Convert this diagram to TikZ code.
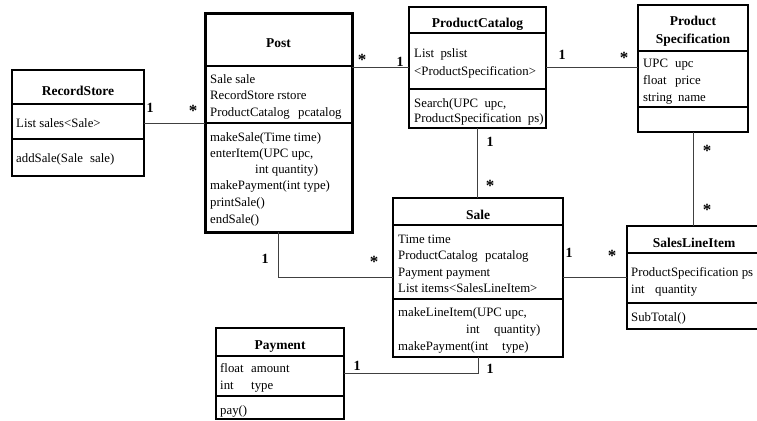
\documentclass[tikz,border=0pt]{standalone}
\usepackage{fontspec}
\setmainfont{Liberation Serif}
\begin{document}
\begin{tikzpicture}[x=1pt,y=-1pt,
  cls/.style={draw=black, line width=1.8pt, anchor=north west, inner sep=0pt, outer sep=0pt},
  sep/.style={draw=black, line width=1.7pt},
  con/.style={draw=black!75, line width=1pt},
  txt/.style={anchor=base west, inner sep=0pt, font=\fontsize{12.8}{15}\selectfont},
  ttl/.style={anchor=base, inner sep=0pt, font=\bfseries\fontsize{13.5}{16}\selectfont},
  mult/.style={inner sep=0pt, font=\bfseries\fontsize{14}{16}\selectfont},
  star/.style={inner sep=0pt, font=\bfseries\fontsize{17}{18}\selectfont}]
\useasboundingbox (0,0) rectangle (757,420);

% ---------- RecordStore
\node[cls, minimum width=132pt, minimum height=106pt] (rs) at (12,70) {};
\draw[sep] (12,104) -- (144,104);
\draw[sep] (12,139) -- (144,139);
\node[ttl] (rst) at (78,95) {RecordStore};
\node[txt] (rsa1) at (16,127) {List sales<Sale>};
\node[txt] (rsm1) at (16,162) {\makebox[74pt][l]{addSale(Sale}sale)};

% ---------- Post
\node[cls, line width=3pt, minimum width=147pt, minimum height=218pt] (post) at (205,14) {};
\draw[sep] (205,66) -- (352,66);
\draw[sep] (205,123) -- (352,123);
\node[ttl] (postt) at (278.5,48) {Post};
\node[txt] (posta1) at (210,83) {Sale sale};
\node[txt] (posta2) at (210,99.5) {RecordStore rstore};
\node[txt] (posta3) at (210,116) {\makebox[88pt][l]{ProductCatalog}pcatalog};
\node[txt] (postm1) at (210,141) {makeSale(Time time)};
\node[txt] (postm2) at (210,157.5) {enterItem(UPC upc,};
\node[txt] (postm3) at (210,173.5) {\hspace{45pt}int quantity)};
\node[txt] (postm4) at (210,189.5) {makePayment(int type)};
\node[txt] (postm5) at (210,206) {printSale()};
\node[txt] (postm6) at (210,223) {endSale()};

% ---------- ProductCatalog
\node[cls, minimum width=137pt, minimum height=121pt] (pc) at (409,7) {};
\draw[sep] (409,33) -- (546,33);
\draw[sep] (409,89) -- (546,89);
\node[ttl] (pct) at (477.5,28) {ProductCatalog};
\node[txt] (pca1) at (414,57) {List\ \ pslist};
\node[txt] (pca2) at (414,75) {<ProductSpecification>};
\node[txt] (pcm1) at (414,107) {Search(UPC\ \ upc,};
\node[txt] (pcm2) at (414,122) {ProductSpecification\ \ ps)};

% ---------- ProductSpecification
\node[cls, minimum width=110pt, minimum height=127pt] (ps) at (638,5) {};
\draw[sep] (638,51) -- (748,51);
\draw[sep] (638,107) -- (748,107);
\node[ttl] (pst1) at (693,26) {Product};
\node[ttl] (pst2) at (693,44) {Specification};
\node[txt] (psa1) at (643,67) {\makebox[32pt][l]{UPC}upc};
\node[txt] (psa2) at (643,84) {\makebox[32pt][l]{float}price};
\node[txt] (psa3) at (643,101) {\makebox[35pt][l]{string}name};

% ---------- Sale
\node[cls, minimum width=170pt, minimum height=159pt] (sale) at (393,198) {};
\draw[sep] (393,225) -- (563,225);
\draw[sep] (393,299) -- (563,299);
\node[ttl] (salet) at (478,219) {Sale};
\node[txt] (salea1) at (398,243) {Time time};
\node[txt] (salea2) at (398,259.5) {\makebox[87pt][l]{ProductCatalog}pcatalog};
\node[txt] (salea3) at (398,276) {Payment payment};
\node[txt] (salea4) at (398,292.5) {List items<SalesLineItem>};
\node[txt] (salem1) at (398,316) {makeLineItem(UPC upc,};
\node[txt] (salem2) at (398,333) {\hspace{68pt}\makebox[28pt][l]{int}quantity)};
\node[txt] (salem3) at (398,350) {\makebox[104pt][l]{makePayment(int}type)};

% ---------- SalesLineItem
\node[cls, minimum width=133pt, minimum height=103pt] (sli) at (627,226) {};
\draw[sep] (627,253) -- (760,253);
\draw[sep] (627,303) -- (760,303);
\node[ttl] (slit) at (694,247) {SalesLineItem};
\node[txt] (slia1) at (631,276) {ProductSpecification ps};
\node[txt] (slia2) at (631,293) {\makebox[24pt][l]{int}quantity};
\node[txt] (slim1) at (631,321) {SubTotal()};

% ---------- Payment
\node[cls, minimum width=128pt, minimum height=91pt] (pay) at (216,328) {};
\draw[sep] (216,356) -- (344,356);
\draw[sep] (216,396) -- (344,396);
\node[ttl] (payt) at (280,349) {Payment};
\node[txt] (paya1) at (220,372) {\makebox[31pt][l]{float}amount};
\node[txt] (paya2) at (220,389) {\makebox[31pt][l]{int}type};
\node[txt] (paym1) at (220,414) {pay()};

% ---------- connectors
\draw[con] (rs.east) -- (rs.east -| post.west);
\draw[con] (pc.west) -- (pc.west -| post.east);
\draw[con] (pc.east) -- (pc.east -| ps.west);
\draw[con] (pc.south) -- (pc.south |- sale.north);
\draw[con] (ps.south) -- (ps.south |- sli.north);
\draw[con] (sale.east) -- (sale.east -| sli.west);
\draw[con] (post.south) |- (sale.west);
\draw[con] (pay.east) -| (sale.south);

% ---------- multiplicities
\node[mult] (m1) at (150,108) {1};
\node[star] (m2) at (193,111) {*};
\node[star] (m3) at (362,60) {*};
\node[mult] (m4) at (400,62) {1};
\node[mult] (m5) at (562,55) {1};
\node[star] (m6) at (624,58) {*};
\node[mult] (m7) at (490,142) {1};
\node[star] (m8) at (490,186) {*};
\node[star] (m9) at (707,151) {*};
\node[star] (m10) at (707,210) {*};
\node[mult] (m11) at (265,259) {1};
\node[star] (m12) at (374,262) {*};
\node[mult] (m13) at (569,253) {1};
\node[star] (m14) at (612,256) {*};
\node[mult] (m15) at (357,366) {1};
\node[mult] (m16) at (490,369) {1};
\end{tikzpicture}
\end{document}
